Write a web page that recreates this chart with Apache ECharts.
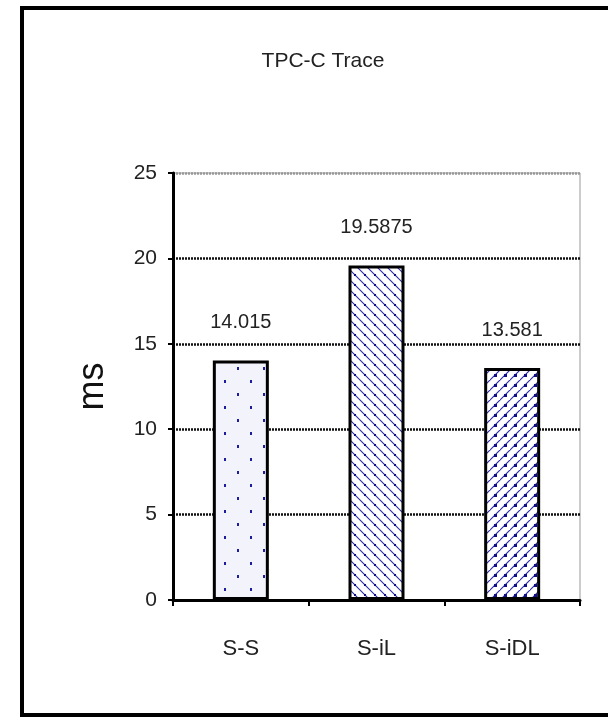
<!DOCTYPE html>
<html>
<head>
<meta charset="utf-8">
<script src="https://cdn.jsdelivr.net/npm/echarts@6/dist/echarts.min.js"></script>
<style>
  html, body { margin: 0; padding: 0; background: #fff; }
  #main { width: 608px; height: 719px; }
</style>
</head>
<body>
<div id="main"></div>
<script>
// 数据
var categories = ['S-S', 'S-iL', 'S-iDL'];
var values = [14.015, 19.5875, 13.581];
var labels = ['14.015', '19.5875', '13.581'];
var yTicks = [0, 5, 10, 15, 20, 25];

// 填充图案
function makeDots() {
    var c = document.createElement('canvas');
    c.width = 26; c.height = 26;
    var g = c.getContext('2d');
    g.fillStyle = '#f3f3fb';
    g.fillRect(0, 0, 26, 26);
    g.fillStyle = '#1c1c9c';
    g.fillRect(3, 3, 2, 3);
    g.fillRect(16, 16, 2, 3);
    return c;
}
function makeHatch(dir, bigDots) {
    var s = 10;
    var c = document.createElement('canvas');
    c.width = s; c.height = s;
    var g = c.getContext('2d');
    g.fillStyle = '#ffffff';
    g.fillRect(0, 0, s, s);
    g.strokeStyle = '#2a2aa8';
    g.lineWidth = 1.1;
    g.beginPath();
    if (dir > 0) { // 左下到右上 /
        g.moveTo(-2, s + 2); g.lineTo(s + 2, -2);
        g.moveTo(-2 - s, s + 2); g.lineTo(2, -2);
        g.moveTo(s - 2, 2 * s + 2); g.lineTo(2 * s + 2, s - 2);
    } else { // 左上到右下 \
        g.moveTo(-2, -2); g.lineTo(s + 2, s + 2);
        g.moveTo(-2 - s, -2); g.lineTo(2, s + 2);
        g.moveTo(s - 2, -2); g.lineTo(2 * s + 2, s + 2);
    }
    g.stroke();
    g.fillStyle = '#10108a';
    if (bigDots) {
        g.fillRect(4, 4, 3, 3);
    } else {
        g.fillRect(4, 4, 2, 2);
    }
    return c;
}
var fills = [
    { image: makeDots(), repeat: 'repeat' },
    { image: makeHatch(-1, false), repeat: 'repeat' },
    { image: makeHatch(1, true), repeat: 'repeat' }
];

var chart = echarts.init(document.getElementById('main'));
var fontFam = 'Liberation Sans, Arial, sans-serif';

var option = {
    animation: false,
    backgroundColor: '#fff',
    title: {
        text: 'TPC-C Trace',
        left: 318,
        top: 46,
        textAlign: 'center',
        textStyle: { fontFamily: fontFam, fontSize: 21, fontWeight: 'normal', color: '#222' }
    },
    graphic: [{
        type: 'rect',
        shape: { x: 22, y: 8, width: 640, height: 707 },
        style: { fill: 'none', stroke: '#000', lineWidth: 4 },
        silent: true
    }],
    grid: {
        left: 173, right: 28, top: 173, bottom: 119,
        show: true,
        borderColor: '#999',
        borderWidth: 1
    },
    xAxis: {
        type: 'category',
        data: categories,
        axisLine: { lineStyle: { color: '#000', width: 3 } },
        axisTick: { show: true, length: 6, lineStyle: { color: '#000', width: 2 } },
        axisLabel: { margin: 38, fontFamily: fontFam, fontSize: 22, color: '#222' },
        splitLine: { show: false }
    },
    yAxis: {
        type: 'value',
        min: yTicks[0],
        max: yTicks[yTicks.length - 1],
        interval: 5,
        name: 'ms',
        nameLocation: 'middle',
        nameRotate: 90,
        nameGap: 62,
        nameTextStyle: { fontFamily: fontFam, fontSize: 36, color: '#111' },
        axisLine: { show: true, lineStyle: { color: '#000', width: 3 } },
        axisTick: { show: true, length: 5, lineStyle: { color: '#000', width: 2 } },
        axisLabel: { margin: 16, fontFamily: fontFam, fontSize: 21, color: '#222' },
        splitLine: {
            show: true,
            lineStyle: {
                color: ['#000', '#111', '#111', '#111', '#111', '#999'],
                width: 2.5,
                type: [2, 1]
            }
        }
    },
    series: [{
        type: 'bar',
        barWidth: 56,
        data: values.map(function (v, i) {
            return {
                value: v,
                itemStyle: { color: fills[i], borderColor: '#000', borderWidth: 3 },
                label: {
                    show: true,
                    position: 'top',
                    distance: 28,
                    formatter: labels[i],
                    fontFamily: fontFam,
                    fontSize: 20,
                    color: '#222'
                }
            };
        })
    }]
};

chart.setOption(option);
</script>
</body>
</html>
